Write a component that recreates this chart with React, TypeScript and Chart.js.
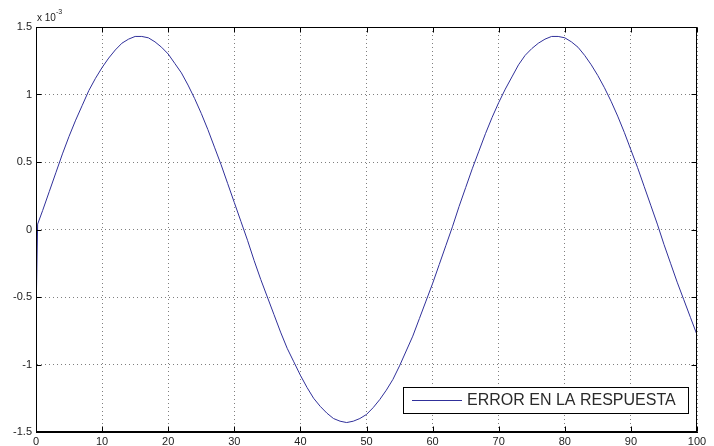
import React, { useEffect, useRef } from "react";
import { Chart, registerables } from "chart.js";

Chart.register(...registerables);

// x positions (time) and error values (units of 1e-3)
const xValues: number[] = [
  0, 0.25, 1, 2, 3, 4, 5, 6, 7, 8, 9, 10, 11, 12, 13, 14, 15, 16, 17, 18, 19, 20,
  21, 22, 23, 24, 25, 26, 27, 28, 29, 30, 31, 32, 33, 34, 35, 36, 37, 38, 39, 40,
  41, 42, 43, 44, 45, 46, 47, 48, 49, 50, 51, 52, 53, 54, 55, 56, 57, 58, 59, 60,
  61, 62, 63, 64, 65, 66, 67, 68, 69, 70, 71, 72, 73, 74, 75, 76, 77, 78, 79, 80,
  81, 82, 83, 84, 85, 86, 87, 88, 89, 90, 91, 92, 93, 94, 95, 96, 97, 98, 99, 100,
];

const errorValues: number[] = [
  -0.65, 0.04, 0.14, 0.28, 0.42, 0.56, 0.69, 0.81, 0.92, 1.03, 1.12, 1.2, 1.27, 1.33, 1.38, 1.41, 1.43, 1.43, 1.42, 1.39, 1.35, 1.3,
  1.23, 1.16, 1.07, 0.97, 0.86, 0.74, 0.61, 0.48, 0.34, 0.2, 0.06, -0.08, -0.23, -0.37, -0.5, -0.63, -0.76, -0.88, -0.98, -1.08,
  -1.17, -1.25, -1.31, -1.36, -1.4, -1.42, -1.43, -1.42, -1.4, -1.37, -1.32, -1.26, -1.19, -1.11, -1.01, -0.9, -0.79, -0.66, -0.53, -0.4,
  -0.26, -0.12, 0.02, 0.17, 0.31, 0.45, 0.58, 0.71, 0.83, 0.94, 1.04, 1.13, 1.22, 1.29, 1.34, 1.38, 1.41, 1.43, 1.43, 1.42,
  1.39, 1.35, 1.29, 1.22, 1.14, 1.05, 0.95, 0.84, 0.72, 0.59, 0.46, 0.32, 0.18, 0.04, -0.11, -0.25, -0.39, -0.52, -0.65, -0.78,
];

const seriesLabel = "ERROR EN LA RESPUESTA";
const exponentBase = "x 10";
const exponentPower = "-3";
const xMin = 0;
const xMax = 100;
const xStep = 10;
const yMin = -1.5;
const yMax = 1.5;
const yStep = 0.5;

const LINE_COLOR = "#30309a";
const FONT = "'Liberation Sans', Arial, sans-serif";
const GRID_COLOR = "rgba(0,0,0,0.5)";

const matlabFrame = {
  id: "matlabFrame",
  afterDraw(chart: any) {
    const { ctx, chartArea, scales } = chart;
    const { left, right, top, bottom } = chartArea;
    ctx.save();
    ctx.strokeStyle = "#000";
    ctx.lineWidth = 1;
    ctx.setLineDash([]);
    const L = Math.round(left) + 0.5;
    const R = Math.round(right) - 0.5;
    const T = Math.round(top) + 0.5;
    const B = Math.round(bottom) - 0.5;
    ctx.strokeRect(L, T, R - L, B - T);
    const tl = 5;
    ctx.beginPath();
    scales.x.ticks.forEach((t: any) => {
      const px = Math.round(scales.x.getPixelForValue(t.value)) + 0.5;
      ctx.moveTo(px, B);
      ctx.lineTo(px, B - tl);
      ctx.moveTo(px, T);
      ctx.lineTo(px, T + tl);
    });
    scales.y.ticks.forEach((t: any) => {
      const py = Math.round(scales.y.getPixelForValue(t.value)) + 0.5;
      ctx.moveTo(L, py);
      ctx.lineTo(L + tl, py);
      ctx.moveTo(R, py);
      ctx.lineTo(R - tl, py);
    });
    ctx.stroke();

    ctx.fillStyle = "#222";
    ctx.textBaseline = "middle";
    ctx.textAlign = "left";
    ctx.font = `10px ${FONT}`;
    ctx.fillText(exponentBase, left + 1, top - 9);
    const w = ctx.measureText(exponentBase).width;
    ctx.font = `7px ${FONT}`;
    ctx.fillText(exponentPower, left + 1 + w, top - 15);

    const bx = 403.5, by = 387.5, bw = 285, bh = 26;
    ctx.fillStyle = "#fff";
    ctx.fillRect(bx, by, bw, bh);
    ctx.strokeStyle = "#000";
    ctx.strokeRect(bx, by, bw, bh);
    ctx.strokeStyle = LINE_COLOR;
    ctx.beginPath();
    ctx.moveTo(412, 400.5);
    ctx.lineTo(462, 400.5);
    ctx.stroke();
    ctx.fillStyle = "#2a2a2a";
    ctx.font = `16px ${FONT}`;
    ctx.textBaseline = "middle";
    ctx.fillText(chart.data.datasets[0].label, 467, 401);
    ctx.restore();
  },
};

export default function App() {
  const ref = useRef<HTMLCanvasElement | null>(null);
  useEffect(() => {
    if (!ref.current) return;
    const points = xValues.map((x, i) => ({ x, y: errorValues[i] }));
    const chart = new Chart(ref.current, {
      type: "line",
      data: {
        datasets: [
          {
            label: seriesLabel,
            data: points,
            borderColor: LINE_COLOR,
            backgroundColor: LINE_COLOR,
            borderWidth: 1,
            pointRadius: 0,
            tension: 0,
            fill: false,
          },
        ],
      },
      options: {
        responsive: false,
        animation: false,
        events: [],
        layout: { padding: { left: 0, right: 17, top: 27, bottom: 0 } },
        plugins: {
          legend: { display: false },
          tooltip: { enabled: false },
          title: { display: false },
        },
        scales: {
          x: {
            type: "linear",
            min: xMin,
            max: xMax,
            ticks: {
              stepSize: xStep,
              color: "#222",
              font: { family: FONT, size: 11 },
              padding: 3,
              maxRotation: 0,
              autoSkip: false,
              callback: (v: any) => String(v),
            },
            grid: { color: GRID_COLOR, drawTicks: false, lineWidth: 1 },
            border: { display: true, color: "#000", width: 1, dash: [1, 3] },
            afterFit: (s: any) => {
              s.height = 14;
            },
          },
          y: {
            type: "linear",
            min: yMin,
            max: yMax,
            ticks: {
              stepSize: yStep,
              color: "#222",
              font: { family: FONT, size: 11 },
              padding: 4,
              autoSkip: false,
              callback: (v: any) => String(v),
            },
            grid: { color: GRID_COLOR, drawTicks: false, lineWidth: 1 },
            border: { display: true, color: "#000", width: 1, dash: [1, 3] },
            afterFit: (s: any) => {
              s.width = 36;
            },
          },
        },
      },
      plugins: [matlabFrame],
    });
    return () => chart.destroy();
  }, []);

  return (
    <div style={{ position: "absolute", left: 0, top: 0, width: 714, height: 446, background: "#fff" }}>
      <canvas ref={ref} width={714} height={446} style={{ display: "block" }} />
    </div>
  );
}
